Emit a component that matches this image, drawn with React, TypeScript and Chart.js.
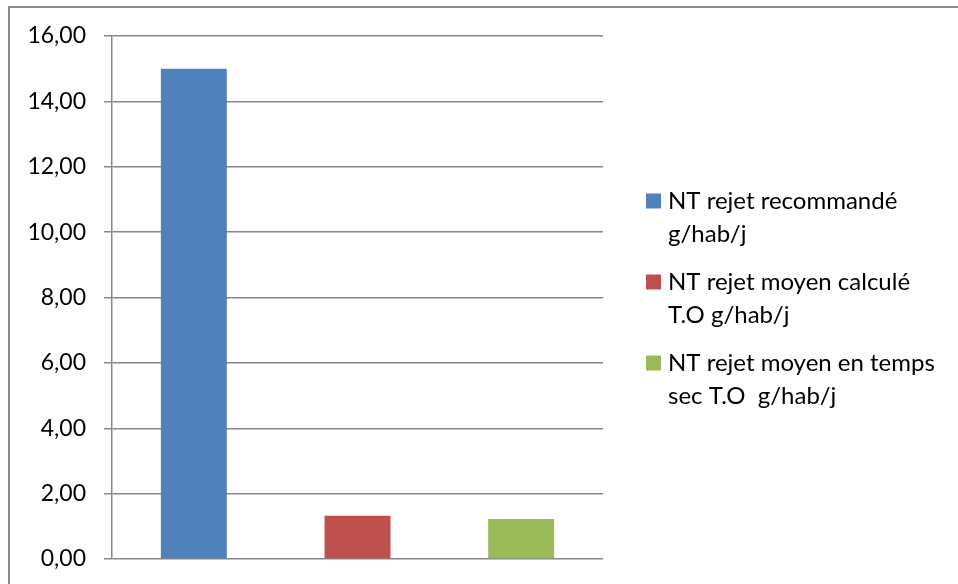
import React, { useEffect, useRef } from "react";
import { Chart, registerables } from "chart.js";

Chart.register(...registerables);

// Legend entries, one per bar (each shown on two lines)
const categories: string[][] = [
  ["NT rejet recommandé", "g/hab/j"],
  ["NT rejet moyen calculé", "T.O g/hab/j"],
  ["NT rejet moyen en temps", "sec T.O  g/hab/j"],
];
const values: number[] = [15.0, 1.32, 1.22];
const barColors: string[] = ["#4f81bd", "#c0504d", "#9bbb59"];
const yMin = 0;
const yMax = 16;
const yStep = 2;

const FONT = "Lato, 'Open Sans', 'Liberation Sans', sans-serif";

// Frame lines and the right-hand legend, painted on the canvas
const framePlugin = {
  id: "frameAndLegend",
  afterDraw(chart: any) {
    const ctx = chart.ctx as CanvasRenderingContext2D;
    ctx.save();
    ctx.strokeStyle = "#8a8a8a";
    ctx.lineWidth = 2;
    ctx.beginPath();
    ctx.moveTo(9, 584);
    ctx.lineTo(9, 7);
    ctx.lineTo(958, 7);
    ctx.stroke();

    const sq = 15;
    const boxX = 646;
    const textX = 668;
    const firstY = 201;
    const entryGap = 81;
    const lineGap = 33;
    ctx.font = `24px ${FONT}`;
    ctx.textBaseline = "middle";
    ctx.textAlign = "left";
    categories.forEach((lines, i) => {
      const y = firstY + i * entryGap;
      ctx.fillStyle = barColors[i];
      ctx.fillRect(boxX, y - sq / 2, sq, sq);
      ctx.fillStyle = "#000000";
      lines.forEach((line, j) => {
        ctx.fillText(line, textX, y + j * lineGap);
      });
    });
    ctx.restore();
  },
};

export default function App() {
  const canvasRef = useRef<HTMLCanvasElement | null>(null);

  useEffect(() => {
    document.body.style.margin = "0";
    const canvas = canvasRef.current;
    if (!canvas) return;
    const chart = new Chart(canvas, {
      type: "bar",
      data: {
        labels: categories.map((c) => c.join(" ")),
        datasets: [
          {
            data: values,
            backgroundColor: barColors,
            borderWidth: 0,
            categoryPercentage: 1,
            barPercentage: 0.403,
          },
        ],
      },
      options: {
        animation: false,
        responsive: false,
        maintainAspectRatio: false,
        layout: { padding: { left: 0, top: 36, right: 355, bottom: 25 } },
        plugins: {
          legend: { display: false },
          tooltip: { enabled: false },
        },
        scales: {
          x: {
            display: false,
          },
          y: {
            min: yMin,
            max: yMax,
            afterFit(scale: any) {
              scale.width = 112;
              scale.paddingTop = 0;
              scale.paddingBottom = 0;
            },
            ticks: {
              stepSize: yStep,
              padding: 18,
              color: "#000000",
              font: { family: FONT, size: 23 },
              callback: (v: any) => Number(v).toFixed(2).replace(".", ","),
            },
            grid: {
              color: "#868686",
              lineWidth: 1.5,
              drawTicks: true,
              tickLength: 8,
            },
            border: { display: true, color: "#868686", width: 1.5 },
          },
        },
      },
      plugins: [framePlugin],
    });
    return () => chart.destroy();
  }, []);

  return (
    <canvas
      ref={canvasRef}
      width={958}
      height={584}
      style={{ display: "block", width: 958, height: 584 }}
    />
  );
}
